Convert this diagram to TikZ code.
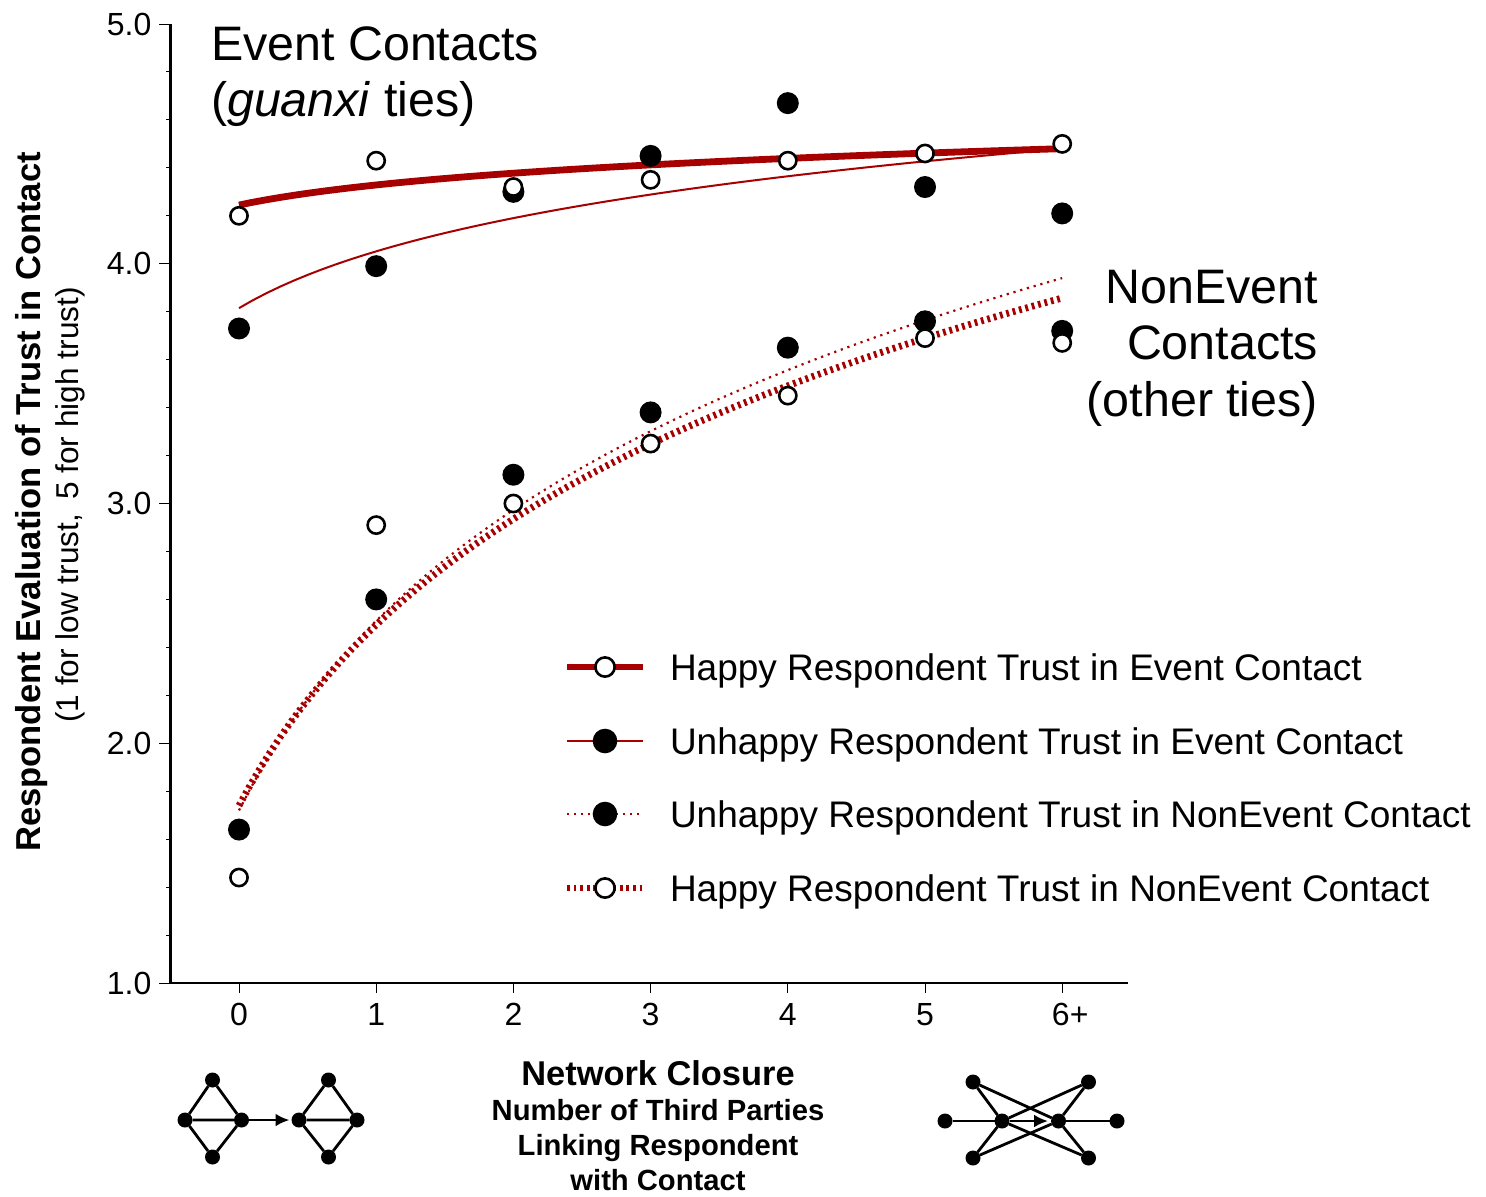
\documentclass[tikz,border=0pt]{standalone}
\usepackage{fontspec}
\setmainfont{Liberation Sans}
\usepackage{xcolor}
\usepackage{tikz}
\usetikzlibrary{positioning,arrows.meta,calc}

\definecolor{trustred}{RGB}{166,0,0}

\begin{document}
\begin{tikzpicture}[
  x=0.5pt, y=-0.5pt,
  every node/.style={inner sep=0pt, outer sep=0pt},
  ticklab/.style ={font=\fontsize{16}{19}\selectfont},
  bigtxt/.style  ={font=\fontsize{24.2}{28.5}\selectfont},
  legtxt/.style  ={font=\fontsize{18.5}{22}\selectfont, anchor=base west},
  axlab/.style   ={font=\bfseries\fontsize{17.3}{20}\selectfont, rotate=90, anchor=base},
  axsub/.style   ={font=\fontsize{15.8}{19}\selectfont, rotate=90, anchor=base},
  xsubtxt/.style ={font=\bfseries\fontsize{14.6}{17.5}\selectfont, anchor=base},
  filled/.style  ={circle, fill=black, minimum size=11pt},
  hollow/.style  ={circle, draw=black, line width=1.3pt, fill=white, minimum size=8.6pt},
  happyEv/.style ={trustred, line width=3.4pt},
  unhappyEv/.style={trustred, line width=1pt},
  unhappyNon/.style={trustred, line width=1.1pt, dash pattern=on 1.1pt off 2.4pt},
  happyNon/.style={trustred, line width=3.4pt, dash pattern=on 1.4pt off 1.9pt},
  axisline/.style={line width=1.2pt},
  tickline/.style={line width=0.5pt},
  netdot/.style  ={circle, fill=black, minimum size=7.5pt},
  netline/.style ={line width=1.4pt},
  >={Latex[length=7pt,width=6.5pt]}
]
\useasboundingbox (0,0) rectangle (1486,1196);

%% ---- Plot area (data coordinates) ---------------------------------
\begin{scope}[shift={(239,1222.75)}, x=68.6pt, y=119.875pt]

  %% axes
  \draw[axisline] (-0.5,5) -- (-0.5,1) -- (6.48,1);
  \foreach \t in {1.2,1.4,...,4.9}
    \draw[tickline] (-0.5,\t) -- ++(-2pt,0);
  \foreach \t in {1,...,5}
    \draw[tickline] (-0.5,\t) -- ++(-5.5pt,0)
      node[ticklab, anchor=east, xshift=-4pt] (yt\t) {\t.0};
  \foreach \i in {0,...,5}
    \draw[tickline] (\i,1) -- ++(0,-5pt)
      node[ticklab, anchor=north, yshift=-5pt] (xt\i) {\i};
  \draw[tickline] (6,1) -- ++(0,-5pt)
    node[ticklab, anchor=north, yshift=-5pt, xshift=4pt] (xt6) {6+};

  %% fitted curves
  \draw[happyEv]    plot[domain=0:6, samples=60] (\x, {4.245+0.1208*ln(\x+1)});
  \draw[unhappyEv]  plot[domain=0:6, samples=60] (\x, {3.815+0.3417*ln(\x+1)});
  \draw[unhappyNon] plot[domain=0:6, samples=80] (\x, {1.72+1.141*ln(\x+1)});
  \draw[happyNon]   plot[domain=0:6, samples=80] (\x, {1.74+1.088*ln(\x+1)});

  %% observed means
  \foreach \v [count=\i from 0] in {3.73,3.99,4.30,4.45,4.67,4.32,4.21}
    \node[filled] (ue\i) at (\i,\v) {};
  \foreach \v [count=\i from 0] in {1.64,2.60,3.12,3.38,3.65,3.76,3.72}
    \node[filled] (un\i) at (\i,\v) {};
  \foreach \v [count=\i from 0] in {4.20,4.43,4.32,4.35,4.43,4.46,4.50}
    \node[hollow] (he\i) at (\i,\v) {};
  \foreach \v [count=\i from 0] in {1.44,2.91,3.00,3.25,3.45,3.69,3.67}
    \node[hollow] (hn\i) at (\i,\v) {};
\end{scope}

%% ---- Axis titles ---------------------------------------------------
\node[axlab] (ytitle) at (40,502) {Respondent Evaluation of Trust in Contact};
\node[axsub] (ysub)   at (78,505) {(1 for low trust,\, 5 for high trust)};

\node[font=\bfseries\fontsize{17.2}{20}\selectfont, anchor=base] (xtitle)
     at (658,1085) {Network Closure};
\node[xsubtxt] (xsub1) at (658,1120) {Number of Third Parties};
\node[xsubtxt] (xsub2) at (658,1155) {Linking Respondent};
\node[xsubtxt] (xsub3) at (658,1190) {with Contact};

%% ---- Curve group labels ----------------------------------------------
\node[bigtxt, anchor=base west] (ev1) at (211,60) {Event Contacts};
\node[bigtxt, anchor=base west] (ev2) at (211,116) {(\textit{guanxi} ties)};

\node[bigtxt, anchor=base east] (ne1) at (1318,303) {NonEvent};
\node[bigtxt, anchor=base east] (ne2) at (1318,359) {Contacts};
\node[bigtxt, anchor=base east] (ne3) at (1318,416) {(other ties)};

%% ---- Legend --------------------------------------------------------
\foreach \sty/\mk/\ly/\txt in {
    happyEv/hollow/667/{Happy Respondent Trust in Event Contact},
    unhappyEv/filled/741/{Unhappy Respondent Trust in Event Contact},
    unhappyNon/filled/814/{Unhappy Respondent Trust in NonEvent Contact},
    happyNon/hollow/888/{Happy Respondent Trust in NonEvent Contact}}{
  \coordinate (lg\ly) at (605,\ly);
  \draw[\sty] ([xshift=-19pt]lg\ly) -- ([xshift=19pt]lg\ly);
  \node[\mk, scale=1.12] (lgm\ly) at (lg\ly) {};
  \node[legtxt] (lgt\ly) at (670,\ly+13) {\txt};
}

%% ---- Closure sketches ------------------------------------------------
% zero third parties
\node[netdot] (a1) at (212.5,1080) {};
\node[netdot] (a2) at (185,1120) {};
\node[netdot] (a3) at (241.5,1120) {};
\node[netdot] (a4) at (212.5,1157) {};
\node[netdot] (b1) at (328.5,1080) {};
\node[netdot] (b2) at (299,1120) {};
\node[netdot] (b3) at (357,1120) {};
\node[netdot] (b4) at (328.5,1157) {};
\draw[netline] (a2) -- (a1) -- (a3) -- (a4) -- (a2) -- (a3);
\draw[netline] (b2) -- (b1) -- (b3) -- (b4) -- (b2) -- (b3);
\draw[netline, ->, shorten >=1pt] (a3) -- (b2);

% many third parties
\node[netdot] (c0) at (945,1121) {};
\node[netdot] (cl) at (1002,1121) {};
\node[netdot] (cr) at (1058.5,1121) {};
\node[netdot] (c9) at (1117,1121) {};
\node[netdot] (tl) at (973,1082) {};
\node[netdot] (tr) at (1088.5,1082) {};
\node[netdot] (bl) at (973,1158) {};
\node[netdot] (br) at (1088.5,1158) {};
\draw[netline] (c0) -- (cl) (cr) -- (c9);
\foreach \p in {tl,tr,bl,br}
  \draw[netline] (\p) -- (cl) (\p) -- (cr);
\draw[netline, ->, shorten >=1.5pt] (cl) -- (cr);

\end{tikzpicture}
\end{document}
